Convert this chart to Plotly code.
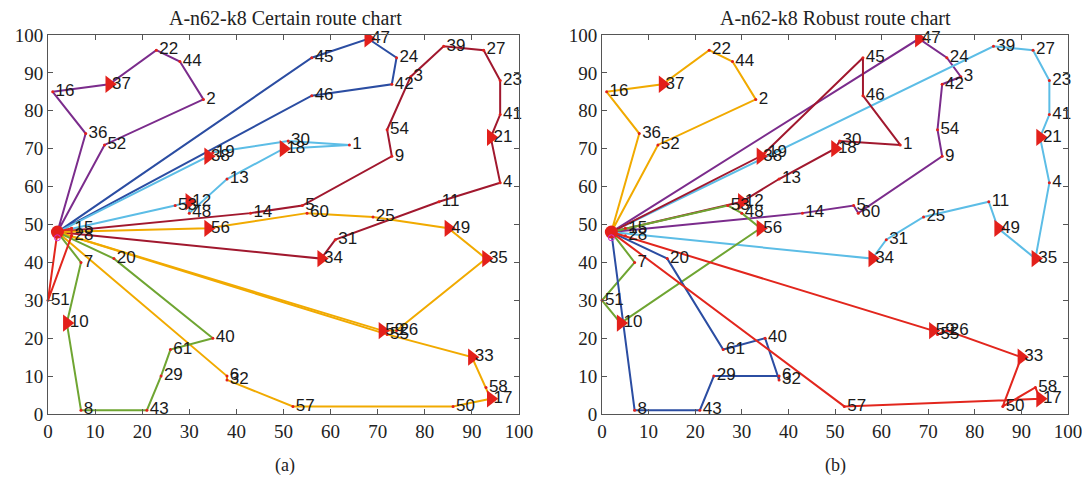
import plotly.graph_objects as go

# ---- node data (customer id, x, y); node 0 = depot ----
node_ids = list(range(62))
node_x = [2, 64, 33, 77, 96, 54, 38, 7, 7, 73, 4, 83, 30, 38, 43, 5, 1, 94, 50, 35,
          14, 94, 23, 96, 74, 69, 74, 92.5, 5, 24, 51, 61, 38, 90, 58, 93, 8, 13, 34, 84,
          35, 96, 73, 21, 28, 56, 56, 68, 30, 85, 86, 0, 12, 27, 72, 72, 34, 52, 93, 71,
          55, 26]
node_y = [48, 71, 83, 89, 61, 55, 10, 40, 1, 68, 24, 56, 56, 62, 53, 49, 85, 4, 70, 69,
          41, 73, 96, 88, 94, 52, 22, 96, 47, 10, 72, 46, 9, 15, 41, 41, 74, 87, 68, 97,
          20, 79, 87, 1, 93, 94, 84, 99, 53, 49, 2, 30, 71, 55, 75, 21, 49, 2, 7, 22,
          53, 17]

# nodes carrying a red direction arrow
arrow_nodes = [37, 47, 38, 18, 12, 56, 21, 34, 49, 35, 59, 33, 17, 10]

# ---- routes ----
routes_certain = [
    ("purple", [0, 36, 16, 37, 22, 44, 2, 52, 0]),
    ("blue", [0, 45, 47, 24, 42, 46, 0]),
    ("lightblue", [0, 38, 19, 30, 1, 18, 13, 48, 12, 53, 0]),
    ("darkred", [0, 14, 5, 9, 54, 3, 39, 27, 23, 41, 21, 4, 11, 31, 34, 0]),
    ("yellow", [0, 56, 60, 25, 49, 35, 26, 59, 0]),
    ("yellow", [0, 55, 33, 58, 17, 50, 57, 32, 6, 0]),
    ("green", [0, 7, 10, 8, 43, 29, 61, 40, 20, 0]),
    ("red", [0, 51, 28, 15, 0]),
]
routes_robust = [
    ("yellow", [0, 36, 16, 37, 22, 44, 2, 52, 0]),
    ("purple", [0, 47, 24, 3, 42, 54, 9, 60, 5, 14, 0]),
    ("lightblue", [0, 39, 27, 23, 41, 21, 4, 35, 49, 11, 25, 31, 34, 0]),
    ("darkred", [0, 38, 19, 45, 46, 1, 30, 18, 13, 12, 0]),
    ("green", [0, 53, 48, 56, 10, 51, 7, 0]),
    ("blue", [0, 8, 43, 29, 6, 32, 40, 61, 20, 0]),
    ("red", [0, 59, 55, 26, 33, 50, 58, 17, 57, 0]),
]

titles = ["A-n62-k8 Certain route chart", "A-n62-k8 Robust route chart"]
sub_labels = ["(a)", "(b)"]

colors = {
    "purple": "#7B2C8C",
    "blue": "#2B4DA2",
    "lightblue": "#5CBDE6",
    "darkred": "#A1182E",
    "yellow": "#F1AA00",
    "green": "#6FA532",
    "red": "#E2261D",
}

fig = go.Figure()

panels = [("x", "y", routes_certain), ("x2", "y2", routes_robust)]
for xa, ya, routes in panels:
    for cname, seq in routes:
        fig.add_trace(go.Scatter(
            x=[node_x[i] for i in seq], y=[node_y[i] for i in seq],
            mode="lines", line=dict(color=colors[cname], width=2),
            xaxis=xa, yaxis=ya, showlegend=False, hoverinfo="skip"))
    # arrows
    fig.add_trace(go.Scatter(
        x=[node_x[i] for i in arrow_nodes], y=[node_y[i] for i in arrow_nodes],
        mode="markers", marker=dict(symbol="triangle-right", size=15, color="#E3201B"),
        xaxis=xa, yaxis=ya, showlegend=False, hoverinfo="skip"))
    # customer points + labels
    fig.add_trace(go.Scatter(
        x=node_x[1:], y=node_y[1:], text=[str(i) for i in node_ids[1:]],
        mode="markers+text", textposition="middle right",
        marker=dict(size=3, color="#E3201B"),
        textfont=dict(family="Liberation Sans, Arial", size=17, color="#1a1a1a"),
        cliponaxis=False, xaxis=xa, yaxis=ya, showlegend=False, hoverinfo="skip"))
    # depot
    fig.add_trace(go.Scatter(
        x=[node_x[0]], y=[node_y[0]], mode="markers",
        marker=dict(size=13, color="#E3201B"),
        cliponaxis=False, xaxis=xa, yaxis=ya, showlegend=False, hoverinfo="skip"))
    fig.add_trace(go.Scatter(
        x=[node_x[0]], y=[node_y[0] - 1.5], mode="markers",
        marker=dict(size=6, color="rgba(0,0,0,0)", line=dict(color="#D030D0", width=1)),
        cliponaxis=False, xaxis=xa, yaxis=ya, showlegend=False, hoverinfo="skip"))

axis_common = dict(range=[0, 100], dtick=10, showgrid=False, zeroline=False,
                   showline=True, mirror="ticks", linecolor="#555555", linewidth=1,
                   ticks="inside", ticklen=5, tickcolor="#555555", automargin=False,
                   tickfont=dict(family="Liberation Serif, Times New Roman", size=19, color="#222222"))

# page offset (the page body adds 8px); target plot area in screen pixels
OFF = 8
L, R, T, B = 48 - OFF, 1068 - OFF, 35 - OFF, 414 - OFF
PW = R - L
PH = B - T
fig.update_layout(
    width=1090, height=485,
    margin=dict(l=L, r=1090 - R, t=T, b=485 - B, autoexpand=False),
    paper_bgcolor="white", plot_bgcolor="white",
    xaxis=dict(domain=[0, (519 - 48) / PW], anchor="y", **axis_common),
    yaxis=dict(domain=[0, 1], anchor="x", **axis_common),
    xaxis2=dict(domain=[(602 - 48) / PW, 1], anchor="y2", **axis_common),
    yaxis2=dict(domain=[0, 1], anchor="x2", **axis_common),
)

title_px = [285, 835]
for tx, t, s in zip(title_px, titles, sub_labels):
    fig.add_annotation(x=(tx - 48) / PW, y=(414 - 18) / PH, xref="paper", yref="paper",
                       xanchor="center", yanchor="middle",
                       text=t, showarrow=False,
                       font=dict(family="Liberation Serif, Times New Roman", size=20, color="#222222"))
    fig.add_annotation(x=(tx - 48) / PW, y=(414 - 465) / PH, xref="paper", yref="paper",
                       xanchor="center", yanchor="middle",
                       text=s, showarrow=False,
                       font=dict(family="Liberation Serif, Times New Roman", size=18, color="#222222"))

fig.write_html("out.html")
